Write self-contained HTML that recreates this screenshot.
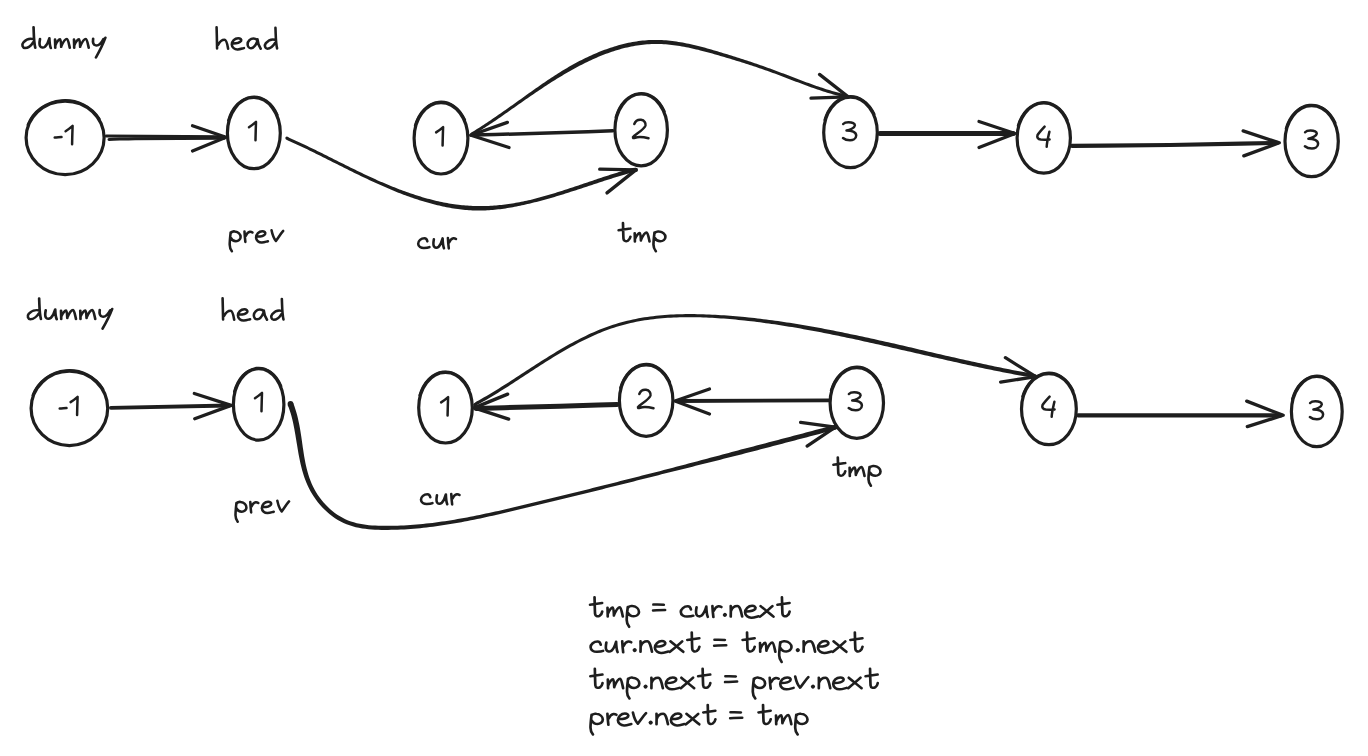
<!DOCTYPE html>
<html><head><meta charset="utf-8"><title>linked list swap</title>
<style>
html,body{margin:0;padding:0;background:#ffffff;width:1368px;height:756px;overflow:hidden;
font-family:"Liberation Sans",sans-serif;}
svg{display:block;}
</style></head><body>
<svg width="1368" height="756" viewBox="0 0 1368 756" fill="none" stroke="#1e1e1e" stroke-linecap="round" stroke-linejoin="round"><ellipse cx="65.1" cy="137.85" rx="39.0" ry="36.75" stroke-width="3.2"/><path d="M27.61,124.97 A39.90,37.65 0 0 1 99.65,119.03" stroke-width="2.2"/>
<ellipse cx="253.85" cy="133.1" rx="26.45" ry="35.6" stroke-width="3.2"/><path d="M228.15,120.62 A27.35,36.50 0 0 1 277.54,114.85" stroke-width="2.2"/>
<ellipse cx="441.0" cy="138.3" rx="26.9" ry="35.7" stroke-width="3.2"/><path d="M414.88,125.78 A27.80,36.60 0 0 1 465.08,120.00" stroke-width="2.2"/>
<ellipse cx="641.15" cy="129.9" rx="26.25" ry="35.9" stroke-width="3.2"/><path d="M615.64,117.31 A27.15,36.80 0 0 1 664.66,111.50" stroke-width="2.2"/>
<ellipse cx="850.5" cy="132.4" rx="26.8" ry="35.3" stroke-width="3.2"/><path d="M824.47,120.02 A27.70,36.20 0 0 1 874.49,114.30" stroke-width="2.2"/>
<ellipse cx="1043.75" cy="138.1" rx="26.65" ry="35.1" stroke-width="3.2"/><path d="M1017.86,125.79 A27.55,36.00 0 0 1 1067.61,120.10" stroke-width="2.2"/>
<ellipse cx="1311.65" cy="141.2" rx="26.65" ry="35.5" stroke-width="3.2"/><path d="M1285.76,128.75 A27.55,36.40 0 0 1 1335.51,123.00" stroke-width="2.2"/>
<ellipse cx="69.4" cy="408.35" rx="38.3" ry="37.25" stroke-width="3.2"/><path d="M32.56,395.30 A39.20,38.15 0 0 1 103.35,389.27" stroke-width="2.2"/>
<ellipse cx="258.65" cy="404.4" rx="25.25" ry="35.7" stroke-width="3.2"/><path d="M234.08,391.88 A26.15,36.60 0 0 1 281.30,386.10" stroke-width="2.2"/>
<ellipse cx="445.5" cy="407.7" rx="26.8" ry="35.3" stroke-width="3.2"/><path d="M419.47,395.32 A27.70,36.20 0 0 1 469.49,389.60" stroke-width="2.2"/>
<ellipse cx="646.15" cy="400.55" rx="26.75" ry="35.75" stroke-width="3.2"/><path d="M620.17,388.01 A27.65,36.65 0 0 1 670.10,382.23" stroke-width="2.2"/>
<ellipse cx="856.8" cy="402.95" rx="26.7" ry="35.35" stroke-width="3.2"/><path d="M830.86,390.55 A27.60,36.25 0 0 1 880.70,384.82" stroke-width="2.2"/>
<ellipse cx="1048.9" cy="409.1" rx="27.4" ry="35.5" stroke-width="3.2"/><path d="M1022.31,396.65 A28.30,36.40 0 0 1 1073.41,390.90" stroke-width="2.2"/>
<ellipse cx="1316.8" cy="411.6" rx="25.4" ry="35.1" stroke-width="3.2"/><path d="M1292.09,399.29 A26.30,36.00 0 0 1 1339.58,393.60" stroke-width="2.2"/>
<path d="M106.4,135.9 L224,136.8" stroke-width="3.0"/>
<path d="M109,139.4 C118,139.2 126,138.8 135,138.7 L224,138.3" stroke-width="3.0"/>
<path d="M192.5,125.75 L226,137.3 L192.5,151" stroke-width="3.3" stroke-linejoin="round"/>
<path d="M286.02,139.28 L287.84,140.39 L289.59,141.17 L291.24,141.91 L292.89,142.66 L294.54,143.41 L296.19,144.17 L297.84,144.93 L299.49,145.70 L301.14,146.48 L302.79,147.26 L304.43,148.04 L306.08,148.83 L307.72,149.62 L309.37,150.42 L311.01,151.22 L312.66,152.03 L314.30,152.83 L315.95,153.65 L317.59,154.46 L319.24,155.28 L320.88,156.09 L322.53,156.92 L324.18,157.74 L325.82,158.56 L327.47,159.39 L329.12,160.22 L330.77,161.05 L332.42,161.88 L334.07,162.71 L335.72,163.54 L337.37,164.37 L339.02,165.20 L340.68,166.03 L342.34,166.86 L344.00,167.69 L345.66,168.52 L347.32,169.34 L348.98,170.17 L350.65,170.99 L352.31,171.81 L353.98,172.63 L355.66,173.45 L357.33,174.27 L359.01,175.08 L360.68,175.89 L362.37,176.70 L364.05,177.50 L365.74,178.30 L367.42,179.09 L369.12,179.88 L370.81,180.68 L372.50,181.47 L374.20,182.26 L375.90,183.04 L377.60,183.82 L379.31,184.59 L381.02,185.35 L382.73,186.11 L384.45,186.87 L386.17,187.61 L387.90,188.35 L389.62,189.09 L391.35,189.81 L393.09,190.53 L394.83,191.24 L396.57,191.94 L398.31,192.63 L400.06,193.32 L401.81,193.99 L403.56,194.66 L405.32,195.32 L407.07,195.96 L408.84,196.60 L410.60,197.23 L412.37,197.84 L414.14,198.45 L415.91,199.04 L417.68,199.62 L419.46,200.19 L421.24,200.75 L423.02,201.30 L424.81,201.83 L426.60,202.35 L428.39,202.86 L430.18,203.35 L431.97,203.83 L433.77,204.30 L435.57,204.75 L437.37,205.19 L439.17,205.61 L440.98,206.02 L442.78,206.42 L444.59,206.80 L446.40,207.16 L448.21,207.51 L450.03,207.84 L451.84,208.15 L453.66,208.45 L455.49,208.73 L457.91,209.08 L459.74,209.31 L461.56,209.53 L463.39,209.73 L465.22,209.91 L467.05,210.08 L468.88,210.22 L470.71,210.34 L472.54,210.45 L474.38,210.53 L476.21,210.57 L478.05,210.58 L479.89,210.57 L481.73,210.53 L483.56,210.48 L485.40,210.40 L487.23,210.31 L489.07,210.20 L490.90,210.06 L492.73,209.91 L494.56,209.75 L496.40,209.56 L498.23,209.36 L500.06,209.14 L501.88,208.91 L503.71,208.66 L505.54,208.39 L507.37,208.11 L509.19,207.81 L511.02,207.50 L512.84,207.17 L514.66,206.83 L516.49,206.48 L518.31,206.11 L520.13,205.73 L521.94,205.34 L523.76,204.93 L525.58,204.52 L527.39,204.09 L529.21,203.65 L531.02,203.21 L532.84,202.77 L534.66,202.33 L536.47,201.88 L538.29,201.41 L540.10,200.94 L541.91,200.46 L543.72,199.97 L545.53,199.47 L547.34,198.97 L549.15,198.45 L550.96,197.94 L552.76,197.41 L554.57,196.88 L556.37,196.34 L558.17,195.80 L559.97,195.25 L561.77,194.69 L563.56,194.13 L565.36,193.57 L567.15,193.01 L568.94,192.44 L570.73,191.86 L572.52,191.29 L574.30,190.71 L576.08,190.13 L577.87,189.55 L579.65,188.97 L581.42,188.38 L583.20,187.80 L584.97,187.21 L586.74,186.63 L588.51,186.04 L590.28,185.46 L592.05,184.88 L593.81,184.29 L595.57,183.71 L597.33,183.14 L599.08,182.56 L600.83,181.99 L602.59,181.42 L604.33,180.86 L606.08,180.29 L607.82,179.74 L609.56,179.19 L611.30,178.64 L613.03,178.10 L614.77,177.56 L616.49,177.03 L618.22,176.50 L619.94,175.99 L621.66,175.48 L623.38,174.97 L625.09,174.48 L626.80,173.99 L628.51,173.51 L630.22,173.04 L631.92,172.58 L633.38,172.17 L636.05,171.99 L635.75,167.81 L632.77,168.04 L630.82,168.56 L629.10,169.04 L627.39,169.53 L625.67,170.03 L623.94,170.54 L622.22,171.05 L620.49,171.57 L618.77,172.10 L617.03,172.64 L615.30,173.18 L613.57,173.73 L611.83,174.28 L610.09,174.84 L608.35,175.40 L606.61,175.97 L604.86,176.55 L603.11,177.12 L601.37,177.70 L599.61,178.29 L597.86,178.87 L596.11,179.46 L594.35,180.05 L592.59,180.64 L590.83,181.24 L589.07,181.83 L587.31,182.43 L585.54,183.03 L583.78,183.62 L582.01,184.22 L580.24,184.82 L578.47,185.41 L576.69,186.00 L574.92,186.60 L573.15,187.19 L571.37,187.78 L569.59,188.36 L567.81,188.94 L566.03,189.52 L564.25,190.10 L562.47,190.67 L560.68,191.24 L558.90,191.80 L557.11,192.36 L555.33,192.91 L553.54,193.46 L551.75,194.00 L549.96,194.54 L548.17,195.06 L546.38,195.58 L544.59,196.10 L542.79,196.60 L541.00,197.10 L539.21,197.59 L537.41,198.07 L535.62,198.54 L533.82,199.00 L532.02,199.46 L530.23,199.90 L528.43,200.31 L526.62,200.71 L524.82,201.09 L523.02,201.46 L521.21,201.82 L519.41,202.17 L517.61,202.51 L515.80,202.83 L514.00,203.14 L512.20,203.44 L510.40,203.72 L508.60,203.99 L506.80,204.24 L505.00,204.48 L503.20,204.70 L501.40,204.91 L499.60,205.10 L497.80,205.28 L496.00,205.43 L494.21,205.58 L492.41,205.70 L490.62,205.81 L488.83,205.90 L487.03,205.97 L485.24,206.02 L483.45,206.05 L481.66,206.07 L479.88,206.06 L478.09,206.04 L476.31,205.99 L474.52,205.95 L472.74,205.89 L470.95,205.82 L469.17,205.73 L467.38,205.62 L465.60,205.49 L463.81,205.35 L462.03,205.18 L460.24,204.99 L458.46,204.79 L456.07,204.49 L454.29,204.25 L452.51,203.99 L450.73,203.71 L448.95,203.41 L447.17,203.10 L445.38,202.77 L443.60,202.43 L441.83,202.07 L440.05,201.70 L438.27,201.30 L436.50,200.90 L434.72,200.47 L432.95,200.04 L431.18,199.59 L429.41,199.12 L427.64,198.64 L425.87,198.15 L424.10,197.65 L422.34,197.13 L420.58,196.60 L418.82,196.06 L417.06,195.51 L415.30,194.94 L413.54,194.37 L411.79,193.78 L410.04,193.18 L408.29,192.57 L406.54,191.95 L404.79,191.32 L403.05,190.69 L401.31,190.04 L399.57,189.38 L397.84,188.71 L396.10,188.04 L394.37,187.36 L392.64,186.67 L390.92,185.97 L389.19,185.26 L387.47,184.55 L385.75,183.83 L384.04,183.10 L382.33,182.37 L380.62,181.63 L378.91,180.88 L377.21,180.13 L375.51,179.37 L373.81,178.61 L372.12,177.84 L370.42,177.07 L368.74,176.29 L367.06,175.50 L365.38,174.70 L363.70,173.91 L362.02,173.10 L360.35,172.30 L358.68,171.49 L357.01,170.68 L355.34,169.87 L353.67,169.05 L352.01,168.23 L350.35,167.41 L348.68,166.59 L347.02,165.77 L345.37,164.94 L343.71,164.11 L342.05,163.29 L340.40,162.46 L338.74,161.63 L337.09,160.80 L335.44,159.97 L333.79,159.15 L332.14,158.32 L330.49,157.49 L328.84,156.66 L327.19,155.84 L325.54,155.01 L323.89,154.19 L322.24,153.37 L320.59,152.55 L318.94,151.74 L317.29,150.92 L315.64,150.11 L313.99,149.30 L312.34,148.50 L310.69,147.70 L309.04,146.90 L307.39,146.10 L305.73,145.31 L304.08,144.53 L302.43,143.75 L300.77,142.97 L299.11,142.20 L297.46,141.43 L295.80,140.67 L294.13,139.92 L292.47,139.17 L290.81,138.42 L289.24,137.73 L287.58,136.72 Z" fill="#1e1e1e" stroke="none"/><circle cx="286.80" cy="138.00" r="1.50" fill="#1e1e1e" stroke="none"/><circle cx="635.90" cy="169.90" r="2.10" fill="#1e1e1e" stroke="none"/>
<path d="M599.7,169.2 L635.9,169.9 L607,192.9" stroke-width="3.3" stroke-linejoin="round"/>
<path d="M612.70,130.80 C588.47,131.63 564.04,132.57 540.00,133.30 C517.14,134.00 494.67,134.50 472.00,135.10" stroke-width="3.5"/>
<path d="M507.4,122.4 L471,135.3 L509,147.5" stroke-width="3.3" stroke-linejoin="round"/>
<path d="M471.66,136.37 L473.06,134.96 L474.66,134.01 L476.41,132.94 L478.16,131.86 L479.90,130.78 L481.63,129.68 L483.37,128.57 L485.09,127.46 L486.82,126.34 L488.54,125.21 L490.25,124.08 L491.97,122.93 L493.68,121.79 L495.38,120.63 L497.09,119.47 L498.79,118.31 L500.49,117.14 L502.19,115.96 L503.88,114.79 L505.58,113.61 L507.27,112.42 L508.96,111.24 L510.65,110.05 L512.34,108.86 L514.03,107.66 L515.72,106.47 L517.41,105.28 L519.10,104.08 L520.79,102.89 L522.48,101.70 L524.18,100.52 L525.88,99.34 L527.58,98.17 L529.28,97.00 L530.99,95.82 L532.69,94.66 L534.40,93.49 L536.11,92.33 L537.82,91.18 L539.53,90.02 L541.25,88.88 L542.97,87.74 L544.69,86.60 L546.41,85.47 L548.14,84.35 L549.87,83.23 L551.61,82.12 L553.35,81.02 L555.09,79.92 L556.84,78.84 L558.59,77.76 L560.34,76.69 L562.10,75.64 L563.87,74.59 L565.64,73.55 L567.41,72.52 L569.20,71.51 L570.98,70.50 L572.77,69.51 L574.57,68.53 L576.37,67.54 L578.17,66.57 L579.97,65.61 L581.79,64.66 L583.61,63.73 L585.44,62.81 L587.28,61.91 L589.12,61.02 L590.97,60.15 L592.83,59.30 L594.70,58.46 L596.57,57.64 L598.45,56.84 L600.33,56.06 L602.22,55.30 L604.12,54.55 L606.02,53.83 L607.93,53.13 L609.84,52.45 L611.76,51.79 L613.68,51.16 L615.61,50.55 L617.54,49.96 L619.48,49.40 L621.43,48.86 L623.37,48.34 L625.33,47.86 L627.28,47.40 L629.24,46.96 L631.21,46.56 L633.17,46.17 L635.14,45.82 L637.12,45.49 L639.09,45.20 L641.08,44.93 L643.06,44.70 L645.05,44.49 L647.04,44.32 L649.02,44.18 L651.70,44.04 L653.69,43.98 L655.69,43.95 L657.70,43.96 L659.71,44.00 L661.72,44.07 L663.73,44.18 L665.75,44.32 L667.77,44.48 L669.80,44.68 L671.82,44.90 L673.85,45.15 L675.88,45.43 L677.91,45.73 L679.94,46.05 L681.97,46.40 L684.00,46.77 L686.04,47.16 L688.07,47.57 L690.10,48.00 L692.13,48.45 L694.17,48.91 L696.20,49.38 L698.22,49.87 L700.25,50.38 L702.28,50.89 L704.30,51.42 L706.32,51.96 L708.34,52.51 L710.35,53.06 L712.36,53.62 L714.37,54.19 L716.38,54.77 L718.37,55.34 L720.37,55.92 L722.36,56.50 L724.34,57.09 L726.32,57.67 L728.30,58.26 L730.27,58.85 L732.24,59.45 L734.20,60.05 L736.16,60.65 L738.11,61.25 L740.06,61.86 L742.01,62.47 L743.95,63.08 L745.89,63.70 L747.83,64.33 L749.77,64.95 L751.70,65.59 L753.63,66.22 L755.56,66.87 L757.49,67.51 L759.41,68.16 L761.34,68.82 L763.26,69.49 L765.18,70.15 L767.10,70.83 L769.02,71.51 L770.94,72.20 L772.86,72.90 L774.78,73.61 L776.70,74.33 L778.62,75.05 L780.54,75.77 L782.46,76.50 L784.38,77.23 L786.30,77.96 L788.23,78.70 L790.16,79.43 L792.08,80.17 L794.01,80.91 L795.95,81.64 L797.88,82.37 L799.82,83.10 L801.75,83.83 L803.69,84.55 L805.64,85.27 L807.58,85.98 L809.53,86.69 L811.48,87.39 L813.44,88.08 L815.40,88.76 L817.36,89.44 L819.32,90.10 L821.29,90.75 L823.26,91.39 L825.24,92.02 L827.22,92.64 L829.20,93.24 L831.19,93.83 L833.19,94.40 L835.18,94.96 L837.19,95.50 L839.19,96.03 L841.20,96.53 L843.22,97.02 L845.18,97.47 L847.77,98.24 L848.63,95.36 L845.96,94.57 L843.91,94.09 L841.92,93.61 L839.94,93.11 L837.96,92.59 L835.98,92.05 L834.01,91.50 L832.04,90.93 L830.07,90.35 L828.11,89.75 L826.15,89.14 L824.19,88.51 L822.24,87.87 L820.29,87.22 L818.34,86.56 L816.39,85.89 L814.45,85.21 L812.51,84.52 L810.57,83.82 L808.63,83.12 L806.69,82.41 L804.76,81.69 L802.83,80.97 L800.89,80.24 L798.96,79.51 L797.04,78.78 L795.11,78.04 L793.18,77.30 L791.25,76.56 L789.33,75.82 L787.40,75.09 L785.48,74.35 L783.55,73.62 L781.63,72.88 L779.70,72.16 L777.78,71.43 L775.86,70.71 L773.93,70.00 L772.00,69.29 L770.08,68.59 L768.16,67.89 L766.23,67.19 L764.31,66.51 L762.38,65.82 L760.45,65.15 L758.53,64.47 L756.60,63.81 L754.66,63.15 L752.73,62.49 L750.80,61.84 L748.86,61.19 L746.92,60.55 L744.97,59.91 L743.03,59.28 L741.08,58.65 L739.13,58.02 L737.17,57.40 L735.21,56.78 L733.25,56.16 L731.28,55.55 L729.31,54.94 L727.33,54.33 L725.35,53.73 L723.37,53.13 L721.38,52.53 L719.38,51.93 L717.38,51.33 L715.37,50.74 L713.36,50.15 L711.34,49.57 L709.32,48.99 L707.29,48.42 L705.25,47.86 L703.22,47.31 L701.18,46.77 L699.13,46.25 L697.08,45.73 L695.03,45.23 L692.97,44.75 L690.92,44.28 L688.85,43.83 L686.79,43.40 L684.72,42.99 L682.66,42.60 L680.58,42.23 L678.51,41.89 L676.44,41.57 L674.37,41.27 L672.29,41.00 L670.21,40.76 L668.14,40.54 L666.06,40.36 L663.99,40.21 L661.91,40.08 L659.83,39.99 L657.76,39.94 L655.68,39.92 L653.61,39.93 L651.54,39.99 L648.80,40.11 L646.73,40.24 L644.67,40.40 L642.62,40.60 L640.57,40.83 L638.53,41.09 L636.48,41.38 L634.45,41.70 L632.41,42.06 L630.39,42.44 L628.36,42.85 L626.35,43.30 L624.34,43.77 L622.33,44.26 L620.33,44.79 L618.33,45.34 L616.34,45.91 L614.36,46.51 L612.38,47.13 L610.41,47.78 L608.45,48.45 L606.49,49.14 L604.54,49.86 L602.59,50.59 L600.65,51.35 L598.72,52.12 L596.80,52.92 L594.88,53.73 L592.97,54.56 L591.07,55.41 L589.18,56.28 L587.29,57.16 L585.41,58.06 L583.54,58.98 L581.68,59.91 L579.83,60.85 L577.98,61.81 L576.14,62.78 L574.31,63.77 L572.49,64.77 L570.68,65.79 L568.89,66.83 L567.10,67.88 L565.31,68.95 L563.54,70.02 L561.77,71.11 L560.00,72.20 L558.25,73.30 L556.49,74.41 L554.75,75.54 L553.01,76.66 L551.27,77.80 L549.54,78.95 L547.82,80.10 L546.10,81.26 L544.38,82.42 L542.67,83.59 L540.96,84.77 L539.25,85.95 L537.55,87.13 L535.85,88.32 L534.16,89.52 L532.47,90.71 L530.78,91.91 L529.09,93.12 L527.41,94.32 L525.72,95.53 L524.04,96.74 L522.36,97.95 L520.68,99.16 L519.00,100.36 L517.31,101.56 L515.62,102.76 L513.94,103.95 L512.25,105.15 L510.57,106.34 L508.88,107.53 L507.19,108.72 L505.51,109.91 L503.82,111.09 L502.13,112.27 L500.44,113.45 L498.75,114.62 L497.06,115.79 L495.37,116.95 L493.67,118.11 L491.97,119.26 L490.27,120.41 L488.57,121.55 L486.87,122.68 L485.16,123.80 L483.45,124.92 L481.73,126.03 L480.01,127.13 L478.29,128.22 L476.57,129.30 L474.83,130.38 L473.10,131.44 L471.21,132.60 L469.54,134.23 Z" fill="#1e1e1e" stroke="none"/><circle cx="470.60" cy="135.30" r="1.50" fill="#1e1e1e" stroke="none"/><circle cx="848.20" cy="96.80" r="1.50" fill="#1e1e1e" stroke="none"/>
<path d="M819.5,74.4 L848.2,96.9 L811,98.1" stroke-width="3.3" stroke-linejoin="round"/>
<path d="M880,133.4 L1013,133.4" stroke-width="5.0"/>
<path d="M979,121.5 L1015,133.5 L979,147.5" stroke-width="3.3" stroke-linejoin="round"/>
<path d="M1072.00,145.90 C1104.67,145.60 1136.96,145.48 1170.00,145.00 C1205.29,144.48 1241.33,143.60 1277.00,142.90" stroke-width="4.2"/>
<path d="M1243.1,130.9 L1279.3,142.8 L1243.8,155.9" stroke-width="3.3" stroke-linejoin="round"/>
<path d="M110.9,407.8 L229,405.5" stroke-width="3.8"/>
<path d="M194.3,393.5 L231.2,405.4 L194.7,418.8" stroke-width="3.3" stroke-linejoin="round"/>
<path d="M287.78,405.00 L288.90,408.03 L289.90,410.93 L290.81,413.86 L291.64,416.83 L292.40,419.83 L293.10,422.87 L293.74,425.94 L294.34,429.04 L294.90,432.16 L295.43,435.31 L295.96,438.46 L296.49,441.63 L297.01,444.81 L297.54,448.00 L298.08,451.19 L298.64,454.38 L299.24,457.57 L299.89,460.75 L300.58,463.92 L301.33,467.08 L302.15,470.22 L303.06,473.34 L304.05,476.43 L305.13,479.50 L306.33,482.53 L307.64,485.52 L309.07,488.48 L310.64,491.38 L312.30,494.25 L314.09,497.05 L316.00,499.78 L318.02,502.43 L320.15,505.00 L322.39,507.47 L324.73,509.84 L327.16,512.11 L329.69,514.25 L332.31,516.28 L335.00,518.17 L337.78,519.92 L340.63,521.52 L343.55,522.97 L346.54,524.25 L349.57,525.37 L352.65,526.33 L355.77,527.15 L358.92,527.84 L362.10,528.40 L365.31,528.86 L368.53,529.22 L371.76,529.49 L375.01,529.69 L378.26,529.81 L381.50,529.89 L384.75,529.91 L387.99,529.90 L391.22,529.86 L394.45,529.79 L397.67,529.69 L400.89,529.55 L404.11,529.39 L407.32,529.19 L410.53,528.97 L413.74,528.72 L416.94,528.44 L420.14,528.13 L423.33,527.81 L426.52,527.45 L429.71,527.08 L432.89,526.68 L436.08,526.25 L439.25,525.81 L442.43,525.35 L445.60,524.86 L448.77,524.36 L451.93,523.83 L455.09,523.29 L458.25,522.74 L461.41,522.16 L464.56,521.57 L467.71,520.97 L470.86,520.35 L474.00,519.72 L477.15,519.07 L480.29,518.41 L483.43,517.74 L486.56,517.06 L489.69,516.37 L492.83,515.67 L495.96,514.96 L499.08,514.25 L502.21,513.53 L505.33,512.80 L508.45,512.06 L511.57,511.32 L514.69,510.58 L517.81,509.83 L520.92,509.08 L524.04,508.32 L528.19,507.32 L531.30,506.58 L534.41,505.83 L537.52,505.09 L540.63,504.34 L543.74,503.59 L546.85,502.84 L549.96,502.09 L553.07,501.33 L556.17,500.58 L559.28,499.82 L562.38,499.07 L565.49,498.31 L568.59,497.55 L571.69,496.79 L574.79,496.03 L577.90,495.27 L581.00,494.51 L584.10,493.75 L587.20,492.98 L590.30,492.22 L593.40,491.45 L596.49,490.68 L599.59,489.91 L602.69,489.14 L605.79,488.37 L608.89,487.60 L611.98,486.83 L615.08,486.06 L618.18,485.28 L621.27,484.51 L624.37,483.73 L627.47,482.96 L630.56,482.18 L633.66,481.40 L636.76,480.62 L639.85,479.84 L642.95,479.06 L646.05,478.28 L649.14,477.50 L652.24,476.72 L655.34,475.93 L658.43,475.15 L661.53,474.36 L664.63,473.59 L667.73,472.82 L670.83,472.05 L673.93,471.28 L677.03,470.51 L680.13,469.74 L683.24,468.96 L686.34,468.19 L689.44,467.42 L692.54,466.64 L695.64,465.87 L698.74,465.09 L701.84,464.31 L704.94,463.53 L708.04,462.76 L711.14,461.98 L714.24,461.20 L717.34,460.42 L720.44,459.64 L723.54,458.86 L726.64,458.08 L729.74,457.29 L732.84,456.51 L735.94,455.73 L739.04,454.94 L742.14,454.16 L745.24,453.36 L748.33,452.56 L751.43,451.75 L754.52,450.95 L757.61,450.14 L760.71,449.33 L763.80,448.52 L766.89,447.72 L769.99,446.91 L773.08,446.10 L776.17,445.29 L779.27,444.48 L782.36,443.67 L785.45,442.86 L788.54,442.05 L791.63,441.24 L794.72,440.43 L797.81,439.61 L800.91,438.80 L804.00,437.99 L807.09,437.17 L810.18,436.36 L813.27,435.54 L816.35,434.73 L819.44,433.91 L822.53,433.10 L825.62,432.28 L828.71,431.47 L831.81,430.65 L835.94,429.51 L834.66,424.89 L830.56,426.02 L827.48,426.83 L824.39,427.65 L821.31,428.47 L818.22,429.29 L815.13,430.11 L812.05,430.93 L808.96,431.75 L805.87,432.56 L802.78,433.38 L799.69,434.20 L796.60,435.01 L793.51,435.83 L790.42,436.64 L787.33,437.46 L784.24,438.27 L781.15,439.08 L778.06,439.90 L774.97,440.71 L771.88,441.52 L768.79,442.33 L765.70,443.15 L762.61,443.96 L759.51,444.77 L756.42,445.58 L753.33,446.39 L750.24,447.19 L747.15,448.00 L744.05,448.81 L740.96,449.62 L737.87,450.45 L734.79,451.28 L731.70,452.10 L728.61,452.92 L725.52,453.75 L722.43,454.57 L719.34,455.39 L716.26,456.21 L713.17,457.03 L710.08,457.85 L706.99,458.67 L703.90,459.49 L700.81,460.31 L697.72,461.13 L694.63,461.94 L691.54,462.76 L688.45,463.58 L685.36,464.39 L682.27,465.21 L679.18,466.02 L676.09,466.83 L673.00,467.64 L669.91,468.46 L666.82,469.27 L663.73,470.08 L660.64,470.88 L657.55,471.67 L654.45,472.46 L651.36,473.25 L648.26,474.04 L645.17,474.83 L642.08,475.62 L638.98,476.40 L635.89,477.19 L632.79,477.97 L629.70,478.76 L626.61,479.54 L623.51,480.32 L620.42,481.11 L617.32,481.89 L614.23,482.67 L611.14,483.45 L608.04,484.23 L604.95,485.00 L601.85,485.78 L598.76,486.56 L595.66,487.33 L592.56,488.10 L589.47,488.88 L586.37,489.65 L583.27,490.42 L580.18,491.19 L577.08,491.96 L573.98,492.73 L570.88,493.49 L567.78,494.26 L564.68,495.02 L561.58,495.79 L558.48,496.55 L555.37,497.31 L552.27,498.07 L549.17,498.83 L546.06,499.59 L542.96,500.34 L539.85,501.10 L536.74,501.85 L533.63,502.61 L530.53,503.36 L527.41,504.11 L523.26,505.10 L520.15,505.84 L517.03,506.57 L513.92,507.30 L510.80,508.03 L507.68,508.75 L504.56,509.46 L501.44,510.18 L498.32,510.88 L495.19,511.58 L492.07,512.27 L488.94,512.95 L485.82,513.62 L482.69,514.28 L479.56,514.93 L476.43,515.56 L473.30,516.19 L470.16,516.80 L467.03,517.40 L463.89,517.99 L460.75,518.56 L457.61,519.11 L454.47,519.65 L451.32,520.17 L448.18,520.67 L445.03,521.15 L441.88,521.61 L438.73,522.06 L435.57,522.48 L432.42,522.88 L429.26,523.26 L426.10,523.62 L422.93,523.95 L419.77,524.26 L416.60,524.54 L413.43,524.80 L410.25,525.03 L407.08,525.24 L403.90,525.41 L400.72,525.56 L397.53,525.68 L394.35,525.77 L391.16,525.84 L387.96,525.87 L384.77,525.87 L381.57,525.83 L378.39,525.75 L375.21,525.62 L372.06,525.42 L368.93,525.15 L365.83,524.79 L362.76,524.35 L359.73,523.80 L356.74,523.13 L353.80,522.35 L350.91,521.44 L348.08,520.39 L345.31,519.19 L342.59,517.83 L339.93,516.33 L337.33,514.68 L334.80,512.90 L332.35,510.98 L329.97,508.95 L327.68,506.81 L325.48,504.56 L323.37,502.22 L321.36,499.78 L319.45,497.27 L317.65,494.68 L315.97,492.02 L314.40,489.31 L312.98,486.53 L311.69,483.71 L310.51,480.84 L309.44,477.94 L308.47,474.99 L307.60,472.01 L306.80,469.00 L306.07,465.95 L305.41,462.88 L304.81,459.78 L304.25,456.65 L303.73,453.51 L303.25,450.35 L302.78,447.18 L302.33,444.00 L301.88,440.81 L301.42,437.61 L300.95,434.41 L300.44,431.22 L299.89,428.03 L299.29,424.85 L298.65,421.67 L297.95,418.52 L297.17,415.37 L296.32,412.25 L295.38,409.15 L294.34,406.10 L293.22,403.00 Z" fill="#1e1e1e" stroke="none"/><circle cx="290.50" cy="404.00" r="2.90" fill="#1e1e1e" stroke="none"/><circle cx="835.30" cy="427.20" r="2.40" fill="#1e1e1e" stroke="none"/>
<path d="M800.6,422.4 L835.3,427.2 L807.1,446.1" stroke-width="3.3" stroke-linejoin="round"/>
<path d="M617.20,404.50 C598.13,405.07 580.17,405.64 560.00,406.20 C533.10,406.94 504.00,407.67 476.00,408.40" stroke-width="5.0"/>
<path d="M507.7,394.1 L474.1,407.9 L508.7,419.1" stroke-width="3.3" stroke-linejoin="round"/>
<path d="M828.9,400.4 L677,401" stroke-width="3.9"/>
<path d="M709.5,389 L675,401 L709.5,414" stroke-width="3.3" stroke-linejoin="round"/>
<path d="M475.73,406.10 L478.21,404.32 L480.64,402.98 L483.15,401.57 L485.66,400.13 L488.16,398.67 L490.66,397.19 L493.16,395.70 L495.65,394.18 L498.14,392.65 L500.63,391.10 L503.12,389.54 L505.60,387.97 L508.09,386.38 L510.57,384.79 L513.06,383.18 L515.54,381.57 L518.03,379.95 L520.52,378.33 L523.00,376.70 L525.50,375.08 L527.99,373.45 L530.49,371.82 L532.99,370.19 L535.49,368.56 L538.00,366.94 L540.52,365.32 L543.04,363.71 L545.56,362.11 L548.09,360.52 L550.63,358.93 L553.18,357.36 L555.73,355.80 L558.28,354.26 L560.85,352.73 L563.42,351.22 L566.00,349.73 L568.59,348.26 L571.19,346.81 L573.79,345.38 L576.40,343.98 L579.02,342.60 L581.65,341.25 L584.29,339.93 L586.94,338.64 L589.59,337.38 L592.26,336.15 L594.93,334.95 L597.62,333.79 L600.31,332.67 L603.01,331.59 L605.73,330.54 L608.45,329.54 L611.19,328.58 L613.93,327.66 L616.69,326.79 L619.46,325.96 L622.23,325.18 L625.03,324.43 L627.83,323.73 L630.64,323.07 L633.46,322.45 L636.29,321.87 L639.13,321.33 L641.98,320.83 L644.84,320.37 L647.70,319.93 L650.58,319.54 L653.46,319.18 L656.35,318.85 L659.24,318.55 L662.14,318.29 L665.05,318.06 L667.96,317.85 L670.87,317.68 L673.80,317.53 L676.72,317.41 L679.65,317.32 L682.58,317.26 L685.52,317.22 L688.46,317.20 L691.40,317.20 L694.35,317.23 L697.29,317.28 L700.24,317.36 L703.19,317.45 L706.14,317.56 L709.09,317.69 L712.04,317.83 L714.99,318.00 L717.94,318.18 L720.88,318.38 L723.83,318.60 L726.77,318.83 L729.72,319.08 L732.65,319.34 L735.59,319.61 L738.53,319.89 L741.46,320.19 L744.39,320.50 L748.30,320.93 L751.22,321.27 L754.15,321.62 L757.07,321.98 L759.99,322.35 L762.91,322.73 L765.83,323.13 L768.75,323.53 L771.66,323.95 L774.58,324.37 L777.49,324.81 L780.40,325.25 L783.31,325.70 L786.21,326.17 L789.12,326.64 L792.02,327.12 L794.93,327.61 L797.83,328.11 L800.73,328.62 L803.63,329.14 L806.53,329.66 L809.42,330.18 L812.32,330.72 L815.22,331.26 L818.11,331.81 L821.00,332.36 L823.90,332.92 L826.79,333.49 L829.68,334.06 L832.57,334.65 L835.46,335.23 L838.35,335.82 L841.23,336.42 L844.12,337.03 L847.00,337.63 L849.89,338.25 L852.77,338.87 L855.66,339.49 L858.54,340.12 L861.42,340.75 L864.30,341.38 L867.18,342.02 L870.06,342.67 L872.94,343.31 L875.82,343.96 L878.70,344.61 L881.58,345.27 L884.46,345.93 L887.34,346.59 L890.21,347.25 L893.09,347.91 L895.97,348.56 L898.85,349.22 L901.73,349.88 L904.61,350.54 L907.49,351.20 L910.37,351.86 L913.25,352.52 L916.13,353.18 L919.01,353.85 L921.88,354.51 L924.76,355.17 L927.64,355.83 L930.52,356.49 L933.40,357.15 L936.28,357.81 L939.16,358.47 L942.04,359.12 L944.92,359.78 L947.80,360.43 L950.68,361.08 L953.56,361.73 L956.44,362.37 L959.33,363.01 L962.21,363.65 L965.09,364.29 L967.98,364.92 L970.86,365.55 L973.74,366.18 L976.63,366.80 L979.51,367.41 L982.40,368.03 L985.29,368.64 L988.18,369.24 L991.06,369.84 L993.95,370.43 L996.84,371.02 L999.73,371.60 L1002.63,372.18 L1005.52,372.75 L1008.41,373.32 L1011.31,373.87 L1014.20,374.42 L1017.10,374.97 L1020.00,375.51 L1022.90,376.04 L1025.79,376.56 L1028.70,377.08 L1031.48,377.56 L1035.25,378.62 L1036.35,374.78 L1032.41,373.66 L1029.40,373.12 L1026.51,372.60 L1023.62,372.07 L1020.73,371.53 L1017.85,370.99 L1014.96,370.44 L1012.08,369.88 L1009.19,369.32 L1006.31,368.75 L1003.43,368.17 L1000.55,367.59 L997.66,367.00 L994.78,366.40 L991.90,365.80 L989.02,365.20 L986.14,364.59 L983.26,363.97 L980.39,363.35 L977.51,362.73 L974.63,362.10 L971.75,361.47 L968.88,360.83 L966.00,360.19 L963.12,359.55 L960.25,358.90 L957.37,358.25 L954.49,357.60 L951.62,356.95 L948.74,356.29 L945.87,355.63 L942.99,354.97 L940.11,354.31 L937.24,353.64 L934.36,352.98 L931.49,352.31 L928.61,351.64 L925.73,350.97 L922.86,350.30 L919.98,349.63 L917.10,348.96 L914.23,348.29 L911.35,347.62 L908.47,346.95 L905.59,346.29 L902.71,345.62 L899.83,344.95 L896.95,344.29 L894.07,343.62 L891.19,342.97 L888.31,342.32 L885.42,341.67 L882.54,341.02 L879.65,340.38 L876.77,339.74 L873.88,339.10 L870.99,338.47 L868.11,337.84 L865.22,337.21 L862.33,336.59 L859.44,335.97 L856.54,335.35 L853.65,334.74 L850.76,334.13 L847.86,333.53 L844.97,332.93 L842.07,332.34 L839.17,331.75 L836.28,331.17 L833.38,330.60 L830.48,330.03 L827.57,329.47 L824.67,328.91 L821.77,328.36 L818.86,327.82 L815.96,327.28 L813.05,326.75 L810.14,326.23 L807.23,325.71 L804.31,325.21 L801.40,324.72 L798.48,324.24 L795.57,323.76 L792.65,323.29 L789.73,322.84 L786.81,322.39 L783.88,321.95 L780.96,321.52 L778.03,321.10 L775.10,320.69 L772.17,320.29 L769.24,319.90 L766.31,319.52 L763.37,319.15 L760.44,318.79 L757.50,318.45 L754.56,318.11 L751.62,317.79 L748.67,317.47 L744.75,317.08 L741.80,316.79 L738.85,316.52 L735.89,316.26 L732.94,316.01 L729.98,315.78 L727.02,315.56 L724.06,315.35 L721.10,315.16 L718.14,314.98 L715.17,314.81 L712.20,314.65 L709.23,314.51 L706.27,314.39 L703.30,314.28 L700.33,314.20 L697.36,314.13 L694.39,314.09 L691.42,314.06 L688.45,314.06 L685.49,314.09 L682.52,314.14 L679.56,314.21 L676.61,314.31 L673.65,314.44 L670.70,314.59 L667.75,314.77 L664.81,314.98 L661.87,315.23 L658.94,315.50 L656.01,315.81 L653.09,316.15 L650.18,316.52 L647.27,316.93 L644.37,317.37 L641.47,317.85 L638.58,318.36 L635.70,318.92 L632.83,319.51 L629.97,320.14 L627.12,320.81 L624.27,321.52 L621.44,322.27 L618.62,323.07 L615.80,323.91 L613.00,324.79 L610.21,325.72 L607.43,326.69 L604.66,327.71 L601.91,328.77 L599.16,329.86 L596.43,331.00 L593.71,332.17 L591.00,333.37 L588.30,334.61 L585.61,335.88 L582.94,337.19 L580.27,338.52 L577.61,339.88 L574.97,341.27 L572.33,342.68 L569.70,344.12 L567.08,345.58 L564.47,347.06 L561.87,348.56 L559.28,350.07 L556.70,351.61 L554.12,353.16 L551.56,354.72 L549.00,356.30 L546.45,357.89 L543.90,359.48 L541.37,361.09 L538.84,362.70 L536.32,364.32 L533.80,365.94 L531.29,367.57 L528.78,369.20 L526.28,370.82 L523.78,372.45 L521.29,374.08 L518.80,375.70 L516.31,377.32 L513.83,378.93 L511.35,380.54 L508.87,382.13 L506.39,383.72 L503.91,385.30 L501.43,386.86 L498.96,388.41 L496.48,389.95 L494.00,391.47 L491.52,392.98 L489.04,394.46 L486.55,395.93 L484.07,397.37 L481.58,398.79 L479.09,400.19 L476.50,401.62 L473.87,403.50 Z" fill="#1e1e1e" stroke="none"/><circle cx="474.80" cy="404.80" r="1.60" fill="#1e1e1e" stroke="none"/><circle cx="1035.80" cy="376.70" r="2.00" fill="#1e1e1e" stroke="none"/>
<path d="M1005.4,357.7 L1035.8,376.7 L1000.6,382.1" stroke-width="3.3" stroke-linejoin="round"/>
<path d="M1078,415.3 L1281,415.3" stroke-width="4.2"/>
<path d="M1246.7,401.1 L1283.2,415.3 L1247.3,426.6" stroke-width="3.3" stroke-linejoin="round"/>
<path transform="translate(53.60,137.30) scale(1.0)" stroke-width="2.500" d="M1.1,0.2 C3,0 5.5,-0.1 7.9,-0.3"/>
<path transform="translate(65.10,144.20) scale(1.0)" stroke-width="2.500" d="M0.5,-13 C2.5,-14.3 5,-16 7.5,-18.3 C7.3,-12 7.1,-6 7,0"/>
<path transform="translate(248.50,140.20) scale(1.0)" stroke-width="2.500" d="M0.5,-13 C2.5,-14.3 5,-16 7.5,-18.3 C7.3,-12 7.1,-6 7,0"/>
<path transform="translate(435.60,145.40) scale(1.0)" stroke-width="2.500" d="M0.5,-13 C2.5,-14.3 5,-16 7.5,-18.3 C7.3,-12 7.1,-6 7,0"/>
<path transform="translate(632.50,137.50) scale(1.0)" stroke-width="2.500" d="M1.8,-13.5 C3,-16.5 6,-18 8.5,-17.7 C12,-17.2 13.5,-14.5 13,-12 C12,-8.5 6,-5 1.5,-1.5 C-0.5,0 0.5,1 2.5,0.3 C6,-1 11,-0.5 16,0.8"/>
<path transform="translate(842.50,140.50) scale(1.0)" stroke-width="2.500" d="M0.7,-16.5 C2,-18 4,-18.3 6,-18.3 C10,-18.3 12.5,-17 12.4,-15 C12.2,-12.5 7,-10.5 4,-10 C9,-10 13.7,-8.5 13.7,-5 C13.7,-1.5 10,-0.2 7.5,-0.2 C4.5,-0.2 2,-1.2 0.5,-2.5"/>
<path transform="translate(1036.80,146.70) scale(1.0)" stroke-width="2.500" d="M7.8,-20.1 C5,-17 2,-14 0.7,-11.5 C0,-9.5 1,-7.5 4,-7.2 C7,-7 10,-7 12.8,-7.3 M12.6,-15 C11.5,-10 10,-4 9.9,0"/>
<path transform="translate(1304.40,148.70) scale(1.0)" stroke-width="2.500" d="M0.7,-16.5 C2,-18 4,-18.3 6,-18.3 C10,-18.3 12.5,-17 12.4,-15 C12.2,-12.5 7,-10.5 4,-10 C9,-10 13.7,-8.5 13.7,-5 C13.7,-1.5 10,-0.2 7.5,-0.2 C4.5,-0.2 2,-1.2 0.5,-2.5"/>
<path transform="translate(58.60,408.30) scale(1.0)" stroke-width="2.500" d="M1.1,0.2 C3,0 5.5,-0.1 7.9,-0.3"/>
<path transform="translate(70.10,415.10) scale(1.0)" stroke-width="2.500" d="M0.5,-13 C2.5,-14.3 5,-16 7.5,-18.3 C7.3,-12 7.1,-6 7,0"/>
<path transform="translate(254.50,411.20) scale(1.0)" stroke-width="2.500" d="M0.5,-13 C2.5,-14.3 5,-16 7.5,-18.3 C7.3,-12 7.1,-6 7,0"/>
<path transform="translate(440.60,415.40) scale(1.0)" stroke-width="2.500" d="M0.5,-13 C2.5,-14.3 5,-16 7.5,-18.3 C7.3,-12 7.1,-6 7,0"/>
<path transform="translate(637.50,407.50) scale(1.0)" stroke-width="2.500" d="M1.8,-13.5 C3,-16.5 6,-18 8.5,-17.7 C12,-17.2 13.5,-14.5 13,-12 C12,-8.5 6,-5 1.5,-1.5 C-0.5,0 0.5,1 2.5,0.3 C6,-1 11,-0.5 16,0.8"/>
<path transform="translate(848.20,410.50) scale(1.0)" stroke-width="2.500" d="M0.7,-16.5 C2,-18 4,-18.3 6,-18.3 C10,-18.3 12.5,-17 12.4,-15 C12.2,-12.5 7,-10.5 4,-10 C9,-10 13.7,-8.5 13.7,-5 C13.7,-1.5 10,-0.2 7.5,-0.2 C4.5,-0.2 2,-1.2 0.5,-2.5"/>
<path transform="translate(1041.80,416.70) scale(1.0)" stroke-width="2.500" d="M7.8,-20.1 C5,-17 2,-14 0.7,-11.5 C0,-9.5 1,-7.5 4,-7.2 C7,-7 10,-7 12.8,-7.3 M12.6,-15 C11.5,-10 10,-4 9.9,0"/>
<path transform="translate(1309.40,419.50) scale(1.0)" stroke-width="2.500" d="M0.7,-16.5 C2,-18 4,-18.3 6,-18.3 C10,-18.3 12.5,-17 12.4,-15 C12.2,-12.5 7,-10.5 4,-10 C9,-10 13.7,-8.5 13.7,-5 C13.7,-1.5 10,-0.2 7.5,-0.2 C4.5,-0.2 2,-1.2 0.5,-2.5"/>
<g transform="translate(21.80,47.80) scale(1.0296,0.9500)" stroke-width="2.576"><path transform="translate(0.00,0)" d="M11,-9.1 C8,-10 4,-8.5 1.5,-5.5 C-0.5,-3 1,0.3 3,0.3 C6,0.3 9.5,-3 11.2,-6 M11.4,-21.7 C11.8,-14 11.5,-7 13.1,0"/><path transform="translate(16.90,0)" d="M0.8,-9.3 C0.2,-6 0,-3 1,-1.5 C2,0 4,0.2 5.5,-1 C7.5,-3 9,-6.5 9.9,-10.1 M9.9,-10.1 C10,-6 10.2,-2.5 11.3,0.3"/><path transform="translate(32.00,0)" d="M0.3,-8.8 C0.4,-5.5 0.5,-2.5 0.5,0 M0.5,-2.5 C1.5,-5 3.5,-8.8 5.2,-9 C6,-9 6.2,-4 6.3,-1 M6.3,-1.5 C7.5,-4.5 10,-9.4 11.8,-9.4 C13,-9.4 13.8,-4 14.6,0"/><path transform="translate(50.40,0)" d="M0.3,-8.8 C0.4,-5.5 0.5,-2.5 0.5,0 M0.5,-2.5 C1.5,-5 3.5,-8.8 5.2,-9 C6,-9 6.2,-4 6.3,-1 M6.3,-1.5 C7.5,-4.5 10,-9.4 11.8,-9.4 C13,-9.4 13.8,-4 14.6,0"/><path transform="translate(68.80,0)" d="M0.5,-9.5 C0,-6 0.5,-3 3,-2.5 C5.5,-2 8.5,-5 10.5,-9.3 M12.4,-10.6 C10.5,-5 7,3 3.2,10.2"/></g>
<g transform="translate(216.30,48.40) scale(0.9697,0.9500)" stroke-width="2.657"><path transform="translate(0.00,0)" d="M0.3,-22.3 C0.5,-15 0.7,-7 0.8,0 M1.8,-3.8 C3.5,-7 5.5,-9.1 8.4,-9.1 C10.5,-9.1 11.5,-4 12.2,0.3"/><path transform="translate(16.00,0)" d="M1.5,-5.2 C4,-5.2 8,-5.8 9.5,-7.7 C10.5,-9.5 8.5,-10.8 6.6,-10.8 C3,-10.8 0,-7.5 0,-4.1 C0,-1 3,1.3 6.1,1.1 C8.5,1 10.5,0.2 12.5,-0.3"/><path transform="translate(32.30,0)" d="M10,-8.5 C9,-10 7.5,-10.5 6,-10.5 C3,-10.5 0,-7.5 0,-4.5 C0,-2 1.5,-0.2 3.5,-0.2 C6,-0.2 8.5,-3.5 10,-7.5 M10.2,-9.5 C10.5,-6 11.5,-2.5 13.5,0.3"/><path transform="translate(49.60,0)" d="M11,-9.1 C8,-10 4,-8.5 1.5,-5.5 C-0.5,-3 1,0.3 3,0.3 C6,0.3 9.5,-3 11.2,-6 M11.4,-21.7 C11.8,-14 11.5,-7 13.1,0"/></g>
<g transform="translate(229.70,241.50) scale(0.9486,0.9500)" stroke-width="2.686"><path transform="translate(0.00,0)" d="M1,-8.5 C2,-10.5 4,-10.8 5.5,-10.5 C9,-10 11.5,-7.5 11.5,-4.7 C11.5,-2 9,-0.3 6.6,-0.3 C4,-0.3 2,-2 1,-4.1 M1,-9.5 C0.5,-5 0,-1 0,3.5 C0,6 1,8.5 2.3,10.2"/><path transform="translate(15.30,0)" d="M0.3,-10.5 C0.5,-6 0.8,-3 1.2,0.5 M1.4,-5.7 C2.5,-8 4,-10 6,-10.3 C7,-10.4 8,-10 8.7,-9.5"/><path transform="translate(27.80,0)" d="M1.5,-5.2 C4,-5.2 8,-5.8 9.5,-7.7 C10.5,-9.5 8.5,-10.8 6.6,-10.8 C3,-10.8 0,-7.5 0,-4.1 C0,-1 3,1.3 6.1,1.1 C8.5,1 10.5,0.2 12.5,-0.3"/><path transform="translate(44.10,0)" d="M0,-11.8 C1,-7 2.5,-3 4.6,-0.6 C6.5,-3 9.5,-8 12.3,-11.1"/></g>
<g transform="translate(418.20,248.00) scale(0.9618,0.9500)" stroke-width="2.668"><path transform="translate(0.00,0)" d="M9.5,-7 C9,-9.5 7.5,-10.3 6.5,-10.3 C3,-10.3 0,-7.5 0,-4.5 C0,-1.5 3,0.1 6,0 C8,0 10.5,-0.3 11.7,-0.9"/><path transform="translate(15.50,0)" d="M0.8,-9.3 C0.2,-6 0,-3 1,-1.5 C2,0 4,0.2 5.5,-1 C7.5,-3 9,-6.5 9.9,-10.1 M9.9,-10.1 C10,-6 10.2,-2.5 11.3,0.3"/><path transform="translate(30.60,0)" d="M0.3,-10.5 C0.5,-6 0.8,-3 1.2,0.5 M1.4,-5.7 C2.5,-8 4,-10 6,-10.3 C7,-10.4 8,-10 8.7,-9.5"/></g>
<g transform="translate(618.00,241.50) scale(1.0372,0.9500)" stroke-width="2.566"><path transform="translate(0.00,0)" d="M4.8,-19.4 C5,-13 5,-7 5.3,-2.7 C5.5,-0.5 7.5,0.2 9.5,-0.8 C11,-2 11.8,-3.5 12,-5.1 M0.6,-11.9 C4,-12.4 8,-13 11.9,-13.6"/><path transform="translate(15.80,0)" d="M0.3,-8.8 C0.4,-5.5 0.5,-2.5 0.5,0 M0.5,-2.5 C1.5,-5 3.5,-8.8 5.2,-9 C6,-9 6.2,-4 6.3,-1 M6.3,-1.5 C7.5,-4.5 10,-9.4 11.8,-9.4 C13,-9.4 13.8,-4 14.6,0"/><path transform="translate(34.20,0)" d="M1,-8.5 C2,-10.5 4,-10.8 5.5,-10.5 C9,-10 11.5,-7.5 11.5,-4.7 C11.5,-2 9,-0.3 6.6,-0.3 C4,-0.3 2,-2 1,-4.1 M1,-9.5 C0.5,-5 0,-1 0,3.5 C0,6 1,8.5 2.3,10.2"/></g>
<g transform="translate(27.20,319.00) scale(1.0468,0.9500)" stroke-width="2.554"><path transform="translate(0.00,0)" d="M11,-9.1 C8,-10 4,-8.5 1.5,-5.5 C-0.5,-3 1,0.3 3,0.3 C6,0.3 9.5,-3 11.2,-6 M11.4,-21.7 C11.8,-14 11.5,-7 13.1,0"/><path transform="translate(16.90,0)" d="M0.8,-9.3 C0.2,-6 0,-3 1,-1.5 C2,0 4,0.2 5.5,-1 C7.5,-3 9,-6.5 9.9,-10.1 M9.9,-10.1 C10,-6 10.2,-2.5 11.3,0.3"/><path transform="translate(32.00,0)" d="M0.3,-8.8 C0.4,-5.5 0.5,-2.5 0.5,0 M0.5,-2.5 C1.5,-5 3.5,-8.8 5.2,-9 C6,-9 6.2,-4 6.3,-1 M6.3,-1.5 C7.5,-4.5 10,-9.4 11.8,-9.4 C13,-9.4 13.8,-4 14.6,0"/><path transform="translate(50.40,0)" d="M0.3,-8.8 C0.4,-5.5 0.5,-2.5 0.5,0 M0.5,-2.5 C1.5,-5 3.5,-8.8 5.2,-9 C6,-9 6.2,-4 6.3,-1 M6.3,-1.5 C7.5,-4.5 10,-9.4 11.8,-9.4 C13,-9.4 13.8,-4 14.6,0"/><path transform="translate(68.80,0)" d="M0.5,-9.5 C0,-6 0.5,-3 3,-2.5 C5.5,-2 8.5,-5 10.5,-9.3 M12.4,-10.6 C10.5,-5 7,3 3.2,10.2"/></g>
<g transform="translate(222.30,319.50) scale(0.9761,0.9500)" stroke-width="2.648"><path transform="translate(0.00,0)" d="M0.3,-22.3 C0.5,-15 0.7,-7 0.8,0 M1.8,-3.8 C3.5,-7 5.5,-9.1 8.4,-9.1 C10.5,-9.1 11.5,-4 12.2,0.3"/><path transform="translate(16.00,0)" d="M1.5,-5.2 C4,-5.2 8,-5.8 9.5,-7.7 C10.5,-9.5 8.5,-10.8 6.6,-10.8 C3,-10.8 0,-7.5 0,-4.1 C0,-1 3,1.3 6.1,1.1 C8.5,1 10.5,0.2 12.5,-0.3"/><path transform="translate(32.30,0)" d="M10,-8.5 C9,-10 7.5,-10.5 6,-10.5 C3,-10.5 0,-7.5 0,-4.5 C0,-2 1.5,-0.2 3.5,-0.2 C6,-0.2 8.5,-3.5 10,-7.5 M10.2,-9.5 C10.5,-6 11.5,-2.5 13.5,0.3"/><path transform="translate(49.60,0)" d="M11,-9.1 C8,-10 4,-8.5 1.5,-5.5 C-0.5,-3 1,0.3 3,0.3 C6,0.3 9.5,-3 11.2,-6 M11.4,-21.7 C11.8,-14 11.5,-7 13.1,0"/></g>
<g transform="translate(235.50,512.00) scale(0.9486,0.9500)" stroke-width="2.686"><path transform="translate(0.00,0)" d="M1,-8.5 C2,-10.5 4,-10.8 5.5,-10.5 C9,-10 11.5,-7.5 11.5,-4.7 C11.5,-2 9,-0.3 6.6,-0.3 C4,-0.3 2,-2 1,-4.1 M1,-9.5 C0.5,-5 0,-1 0,3.5 C0,6 1,8.5 2.3,10.2"/><path transform="translate(15.30,0)" d="M0.3,-10.5 C0.5,-6 0.8,-3 1.2,0.5 M1.4,-5.7 C2.5,-8 4,-10 6,-10.3 C7,-10.4 8,-10 8.7,-9.5"/><path transform="translate(27.80,0)" d="M1.5,-5.2 C4,-5.2 8,-5.8 9.5,-7.7 C10.5,-9.5 8.5,-10.8 6.6,-10.8 C3,-10.8 0,-7.5 0,-4.1 C0,-1 3,1.3 6.1,1.1 C8.5,1 10.5,0.2 12.5,-0.3"/><path transform="translate(44.10,0)" d="M0,-11.8 C1,-7 2.5,-3 4.6,-0.6 C6.5,-3 9.5,-8 12.3,-11.1"/></g>
<g transform="translate(421.00,504.00) scale(0.9796,0.9500)" stroke-width="2.643"><path transform="translate(0.00,0)" d="M9.5,-7 C9,-9.5 7.5,-10.3 6.5,-10.3 C3,-10.3 0,-7.5 0,-4.5 C0,-1.5 3,0.1 6,0 C8,0 10.5,-0.3 11.7,-0.9"/><path transform="translate(15.50,0)" d="M0.8,-9.3 C0.2,-6 0,-3 1,-1.5 C2,0 4,0.2 5.5,-1 C7.5,-3 9,-6.5 9.9,-10.1 M9.9,-10.1 C10,-6 10.2,-2.5 11.3,0.3"/><path transform="translate(30.60,0)" d="M0.3,-10.5 C0.5,-6 0.8,-3 1.2,0.5 M1.4,-5.7 C2.5,-8 4,-10 6,-10.3 C7,-10.4 8,-10 8.7,-9.5"/></g>
<g transform="translate(832.80,476.00) scale(1.0438,0.9500)" stroke-width="2.558"><path transform="translate(0.00,0)" d="M4.8,-19.4 C5,-13 5,-7 5.3,-2.7 C5.5,-0.5 7.5,0.2 9.5,-0.8 C11,-2 11.8,-3.5 12,-5.1 M0.6,-11.9 C4,-12.4 8,-13 11.9,-13.6"/><path transform="translate(15.80,0)" d="M0.3,-8.8 C0.4,-5.5 0.5,-2.5 0.5,0 M0.5,-2.5 C1.5,-5 3.5,-8.8 5.2,-9 C6,-9 6.2,-4 6.3,-1 M6.3,-1.5 C7.5,-4.5 10,-9.4 11.8,-9.4 C13,-9.4 13.8,-4 14.6,0"/><path transform="translate(34.20,0)" d="M1,-8.5 C2,-10.5 4,-10.8 5.5,-10.5 C9,-10 11.5,-7.5 11.5,-4.7 C11.5,-2 9,-0.3 6.6,-0.3 C4,-0.3 2,-2 1,-4.1 M1,-9.5 C0.5,-5 0,-1 0,3.5 C0,6 1,8.5 2.3,10.2"/></g>
<g transform="translate(589.40,616.60) scale(1.07,1.0)" stroke-width="2.512"><path transform="translate(0.00,0)" d="M4.8,-19.4 C5,-13 5,-7 5.3,-2.7 C5.5,-0.5 7.5,0.2 9.5,-0.8 C11,-2 11.8,-3.5 12,-5.1 M0.6,-11.9 C4,-12.4 8,-13 11.9,-13.6"/><path transform="translate(16.64,0)" d="M0.3,-8.8 C0.4,-5.5 0.5,-2.5 0.5,0 M0.5,-2.5 C1.5,-5 3.5,-8.8 5.2,-9 C6,-9 6.2,-4 6.3,-1 M6.3,-1.5 C7.5,-4.5 10,-9.4 11.8,-9.4 C13,-9.4 13.8,-4 14.6,0"/><path transform="translate(34.86,0)" d="M1,-8.5 C2,-10.5 4,-10.8 5.5,-10.5 C9,-10 11.5,-7.5 11.5,-4.7 C11.5,-2 9,-0.3 6.6,-0.3 C4,-0.3 2,-2 1,-4.1 M1,-9.5 C0.5,-5 0,-1 0,3.5 C0,6 1,8.5 2.3,10.2"/><path transform="translate(59.53,0)" d="M0.3,-12 C3.5,-12.1 7,-12.1 10,-11.8 M0,-6.1 C4,-6.3 8,-6.6 11.2,-6.6"/><path transform="translate(85.42,0)" d="M9.5,-7 C9,-9.5 7.5,-10.3 6.5,-10.3 C3,-10.3 0,-7.5 0,-4.5 C0,-1.5 3,0.1 6,0 C8,0 10.5,-0.3 11.7,-0.9"/><path transform="translate(99.35,0)" d="M0.8,-9.3 C0.2,-6 0,-3 1,-1.5 C2,0 4,0.2 5.5,-1 C7.5,-3 9,-6.5 9.9,-10.1 M9.9,-10.1 C10,-6 10.2,-2.5 11.3,0.3"/><path transform="translate(114.67,0)" d="M0.3,-10.5 C0.5,-6 0.8,-3 1.2,0.5 M1.4,-5.7 C2.5,-8 4,-10 6,-10.3 C7,-10.4 8,-10 8.7,-9.5"/><path transform="translate(124.77,0)" stroke-width="3.865" d="M1.8,-1.6 L1.9,-1.7"/><path transform="translate(131.78,0)" d="M0.3,-10.5 C0.5,-7 0.4,-3 0.3,0 M0.5,-5.5 C1.5,-8.5 4,-10.5 6.5,-10.5 C9,-10.5 10,-5 11,0"/><path transform="translate(145.51,0)" d="M1.5,-5.2 C4,-5.2 8,-5.8 9.5,-7.7 C10.5,-9.5 8.5,-10.8 6.6,-10.8 C3,-10.8 0,-7.5 0,-4.1 C0,-1 3,1.3 6.1,1.1 C8.5,1 10.5,0.2 12.5,-0.3"/><path transform="translate(159.53,0)" d="M0.5,-10.5 C4,-7.5 8.5,-3.5 12.5,0 M11.5,-10.5 C8,-7 4,-3.5 0,0"/><path transform="translate(175.14,0)" d="M4.8,-19.4 C5,-13 5,-7 5.3,-2.7 C5.5,-0.5 7.5,0.2 9.5,-0.8 C11,-2 11.8,-3.5 12,-5.1 M0.6,-11.9 C4,-12.4 8,-13 11.9,-13.6"/></g>
<g transform="translate(590.60,651.80) scale(1.07,1.0)" stroke-width="2.512"><path transform="translate(0.00,0)" d="M9.5,-7 C9,-9.5 7.5,-10.3 6.5,-10.3 C3,-10.3 0,-7.5 0,-4.5 C0,-1.5 3,0.1 6,0 C8,0 10.5,-0.3 11.7,-0.9"/><path transform="translate(13.93,0)" d="M0.8,-9.3 C0.2,-6 0,-3 1,-1.5 C2,0 4,0.2 5.5,-1 C7.5,-3 9,-6.5 9.9,-10.1 M9.9,-10.1 C10,-6 10.2,-2.5 11.3,0.3"/><path transform="translate(29.25,0)" d="M0.3,-10.5 C0.5,-6 0.8,-3 1.2,0.5 M1.4,-5.7 C2.5,-8 4,-10 6,-10.3 C7,-10.4 8,-10 8.7,-9.5"/><path transform="translate(39.35,0)" stroke-width="3.865" d="M1.8,-1.6 L1.9,-1.7"/><path transform="translate(46.36,0)" d="M0.3,-10.5 C0.5,-7 0.4,-3 0.3,0 M0.5,-5.5 C1.5,-8.5 4,-10.5 6.5,-10.5 C9,-10.5 10,-5 11,0"/><path transform="translate(60.09,0)" d="M1.5,-5.2 C4,-5.2 8,-5.8 9.5,-7.7 C10.5,-9.5 8.5,-10.8 6.6,-10.8 C3,-10.8 0,-7.5 0,-4.1 C0,-1 3,1.3 6.1,1.1 C8.5,1 10.5,0.2 12.5,-0.3"/><path transform="translate(74.11,0)" d="M0.5,-10.5 C4,-7.5 8.5,-3.5 12.5,0 M11.5,-10.5 C8,-7 4,-3.5 0,0"/><path transform="translate(89.72,0)" d="M4.8,-19.4 C5,-13 5,-7 5.3,-2.7 C5.5,-0.5 7.5,0.2 9.5,-0.8 C11,-2 11.8,-3.5 12,-5.1 M0.6,-11.9 C4,-12.4 8,-13 11.9,-13.6"/><path transform="translate(115.51,0)" d="M0.3,-12 C3.5,-12.1 7,-12.1 10,-11.8 M0,-6.1 C4,-6.3 8,-6.6 11.2,-6.6"/><path transform="translate(141.40,0)" d="M4.8,-19.4 C5,-13 5,-7 5.3,-2.7 C5.5,-0.5 7.5,0.2 9.5,-0.8 C11,-2 11.8,-3.5 12,-5.1 M0.6,-11.9 C4,-12.4 8,-13 11.9,-13.6"/><path transform="translate(158.04,0)" d="M0.3,-8.8 C0.4,-5.5 0.5,-2.5 0.5,0 M0.5,-2.5 C1.5,-5 3.5,-8.8 5.2,-9 C6,-9 6.2,-4 6.3,-1 M6.3,-1.5 C7.5,-4.5 10,-9.4 11.8,-9.4 C13,-9.4 13.8,-4 14.6,0"/><path transform="translate(176.26,0)" d="M1,-8.5 C2,-10.5 4,-10.8 5.5,-10.5 C9,-10 11.5,-7.5 11.5,-4.7 C11.5,-2 9,-0.3 6.6,-0.3 C4,-0.3 2,-2 1,-4.1 M1,-9.5 C0.5,-5 0,-1 0,3.5 C0,6 1,8.5 2.3,10.2"/><path transform="translate(191.78,0)" stroke-width="3.865" d="M1.8,-1.6 L1.9,-1.7"/><path transform="translate(198.79,0)" d="M0.3,-10.5 C0.5,-7 0.4,-3 0.3,0 M0.5,-5.5 C1.5,-8.5 4,-10.5 6.5,-10.5 C9,-10.5 10,-5 11,0"/><path transform="translate(212.52,0)" d="M1.5,-5.2 C4,-5.2 8,-5.8 9.5,-7.7 C10.5,-9.5 8.5,-10.8 6.6,-10.8 C3,-10.8 0,-7.5 0,-4.1 C0,-1 3,1.3 6.1,1.1 C8.5,1 10.5,0.2 12.5,-0.3"/><path transform="translate(226.54,0)" d="M0.5,-10.5 C4,-7.5 8.5,-3.5 12.5,0 M11.5,-10.5 C8,-7 4,-3.5 0,0"/><path transform="translate(242.15,0)" d="M4.8,-19.4 C5,-13 5,-7 5.3,-2.7 C5.5,-0.5 7.5,0.2 9.5,-0.8 C11,-2 11.8,-3.5 12,-5.1 M0.6,-11.9 C4,-12.4 8,-13 11.9,-13.6"/></g>
<g transform="translate(589.70,688.20) scale(1.07,1.0)" stroke-width="2.512"><path transform="translate(0.00,0)" d="M4.8,-19.4 C5,-13 5,-7 5.3,-2.7 C5.5,-0.5 7.5,0.2 9.5,-0.8 C11,-2 11.8,-3.5 12,-5.1 M0.6,-11.9 C4,-12.4 8,-13 11.9,-13.6"/><path transform="translate(16.64,0)" d="M0.3,-8.8 C0.4,-5.5 0.5,-2.5 0.5,0 M0.5,-2.5 C1.5,-5 3.5,-8.8 5.2,-9 C6,-9 6.2,-4 6.3,-1 M6.3,-1.5 C7.5,-4.5 10,-9.4 11.8,-9.4 C13,-9.4 13.8,-4 14.6,0"/><path transform="translate(34.86,0)" d="M1,-8.5 C2,-10.5 4,-10.8 5.5,-10.5 C9,-10 11.5,-7.5 11.5,-4.7 C11.5,-2 9,-0.3 6.6,-0.3 C4,-0.3 2,-2 1,-4.1 M1,-9.5 C0.5,-5 0,-1 0,3.5 C0,6 1,8.5 2.3,10.2"/><path transform="translate(50.37,0)" stroke-width="3.865" d="M1.8,-1.6 L1.9,-1.7"/><path transform="translate(57.38,0)" d="M0.3,-10.5 C0.5,-7 0.4,-3 0.3,0 M0.5,-5.5 C1.5,-8.5 4,-10.5 6.5,-10.5 C9,-10.5 10,-5 11,0"/><path transform="translate(71.12,0)" d="M1.5,-5.2 C4,-5.2 8,-5.8 9.5,-7.7 C10.5,-9.5 8.5,-10.8 6.6,-10.8 C3,-10.8 0,-7.5 0,-4.1 C0,-1 3,1.3 6.1,1.1 C8.5,1 10.5,0.2 12.5,-0.3"/><path transform="translate(85.14,0)" d="M0.5,-10.5 C4,-7.5 8.5,-3.5 12.5,0 M11.5,-10.5 C8,-7 4,-3.5 0,0"/><path transform="translate(100.75,0)" d="M4.8,-19.4 C5,-13 5,-7 5.3,-2.7 C5.5,-0.5 7.5,0.2 9.5,-0.8 C11,-2 11.8,-3.5 12,-5.1 M0.6,-11.9 C4,-12.4 8,-13 11.9,-13.6"/><path transform="translate(126.54,0)" d="M0.3,-12 C3.5,-12.1 7,-12.1 10,-11.8 M0,-6.1 C4,-6.3 8,-6.6 11.2,-6.6"/><path transform="translate(152.43,0)" d="M1,-8.5 C2,-10.5 4,-10.8 5.5,-10.5 C9,-10 11.5,-7.5 11.5,-4.7 C11.5,-2 9,-0.3 6.6,-0.3 C4,-0.3 2,-2 1,-4.1 M1,-9.5 C0.5,-5 0,-1 0,3.5 C0,6 1,8.5 2.3,10.2"/><path transform="translate(167.94,0)" d="M0.3,-10.5 C0.5,-6 0.8,-3 1.2,0.5 M1.4,-5.7 C2.5,-8 4,-10 6,-10.3 C7,-10.4 8,-10 8.7,-9.5"/><path transform="translate(178.04,0)" d="M1.5,-5.2 C4,-5.2 8,-5.8 9.5,-7.7 C10.5,-9.5 8.5,-10.8 6.6,-10.8 C3,-10.8 0,-7.5 0,-4.1 C0,-1 3,1.3 6.1,1.1 C8.5,1 10.5,0.2 12.5,-0.3"/><path transform="translate(192.06,0)" d="M0,-11.8 C1,-7 2.5,-3 4.6,-0.6 C6.5,-3 9.5,-8 12.3,-11.1"/><path transform="translate(206.82,0)" stroke-width="3.865" d="M1.8,-1.6 L1.9,-1.7"/><path transform="translate(213.83,0)" d="M0.3,-10.5 C0.5,-7 0.4,-3 0.3,0 M0.5,-5.5 C1.5,-8.5 4,-10.5 6.5,-10.5 C9,-10.5 10,-5 11,0"/><path transform="translate(227.57,0)" d="M1.5,-5.2 C4,-5.2 8,-5.8 9.5,-7.7 C10.5,-9.5 8.5,-10.8 6.6,-10.8 C3,-10.8 0,-7.5 0,-4.1 C0,-1 3,1.3 6.1,1.1 C8.5,1 10.5,0.2 12.5,-0.3"/><path transform="translate(241.59,0)" d="M0.5,-10.5 C4,-7.5 8.5,-3.5 12.5,0 M11.5,-10.5 C8,-7 4,-3.5 0,0"/><path transform="translate(257.20,0)" d="M4.8,-19.4 C5,-13 5,-7 5.3,-2.7 C5.5,-0.5 7.5,0.2 9.5,-0.8 C11,-2 11.8,-3.5 12,-5.1 M0.6,-11.9 C4,-12.4 8,-13 11.9,-13.6"/></g>
<g transform="translate(590.50,724.30) scale(1.07,1.0)" stroke-width="2.512"><path transform="translate(0.00,0)" d="M1,-8.5 C2,-10.5 4,-10.8 5.5,-10.5 C9,-10 11.5,-7.5 11.5,-4.7 C11.5,-2 9,-0.3 6.6,-0.3 C4,-0.3 2,-2 1,-4.1 M1,-9.5 C0.5,-5 0,-1 0,3.5 C0,6 1,8.5 2.3,10.2"/><path transform="translate(15.51,0)" d="M0.3,-10.5 C0.5,-6 0.8,-3 1.2,0.5 M1.4,-5.7 C2.5,-8 4,-10 6,-10.3 C7,-10.4 8,-10 8.7,-9.5"/><path transform="translate(25.61,0)" d="M1.5,-5.2 C4,-5.2 8,-5.8 9.5,-7.7 C10.5,-9.5 8.5,-10.8 6.6,-10.8 C3,-10.8 0,-7.5 0,-4.1 C0,-1 3,1.3 6.1,1.1 C8.5,1 10.5,0.2 12.5,-0.3"/><path transform="translate(39.63,0)" d="M0,-11.8 C1,-7 2.5,-3 4.6,-0.6 C6.5,-3 9.5,-8 12.3,-11.1"/><path transform="translate(54.39,0)" stroke-width="3.865" d="M1.8,-1.6 L1.9,-1.7"/><path transform="translate(61.40,0)" d="M0.3,-10.5 C0.5,-7 0.4,-3 0.3,0 M0.5,-5.5 C1.5,-8.5 4,-10.5 6.5,-10.5 C9,-10.5 10,-5 11,0"/><path transform="translate(75.14,0)" d="M1.5,-5.2 C4,-5.2 8,-5.8 9.5,-7.7 C10.5,-9.5 8.5,-10.8 6.6,-10.8 C3,-10.8 0,-7.5 0,-4.1 C0,-1 3,1.3 6.1,1.1 C8.5,1 10.5,0.2 12.5,-0.3"/><path transform="translate(89.16,0)" d="M0.5,-10.5 C4,-7.5 8.5,-3.5 12.5,0 M11.5,-10.5 C8,-7 4,-3.5 0,0"/><path transform="translate(104.77,0)" d="M4.8,-19.4 C5,-13 5,-7 5.3,-2.7 C5.5,-0.5 7.5,0.2 9.5,-0.8 C11,-2 11.8,-3.5 12,-5.1 M0.6,-11.9 C4,-12.4 8,-13 11.9,-13.6"/><path transform="translate(130.56,0)" d="M0.3,-12 C3.5,-12.1 7,-12.1 10,-11.8 M0,-6.1 C4,-6.3 8,-6.6 11.2,-6.6"/><path transform="translate(156.45,0)" d="M4.8,-19.4 C5,-13 5,-7 5.3,-2.7 C5.5,-0.5 7.5,0.2 9.5,-0.8 C11,-2 11.8,-3.5 12,-5.1 M0.6,-11.9 C4,-12.4 8,-13 11.9,-13.6"/><path transform="translate(173.08,0)" d="M0.3,-8.8 C0.4,-5.5 0.5,-2.5 0.5,0 M0.5,-2.5 C1.5,-5 3.5,-8.8 5.2,-9 C6,-9 6.2,-4 6.3,-1 M6.3,-1.5 C7.5,-4.5 10,-9.4 11.8,-9.4 C13,-9.4 13.8,-4 14.6,0"/><path transform="translate(191.31,0)" d="M1,-8.5 C2,-10.5 4,-10.8 5.5,-10.5 C9,-10 11.5,-7.5 11.5,-4.7 C11.5,-2 9,-0.3 6.6,-0.3 C4,-0.3 2,-2 1,-4.1 M1,-9.5 C0.5,-5 0,-1 0,3.5 C0,6 1,8.5 2.3,10.2"/></g></svg>
</body></html>
